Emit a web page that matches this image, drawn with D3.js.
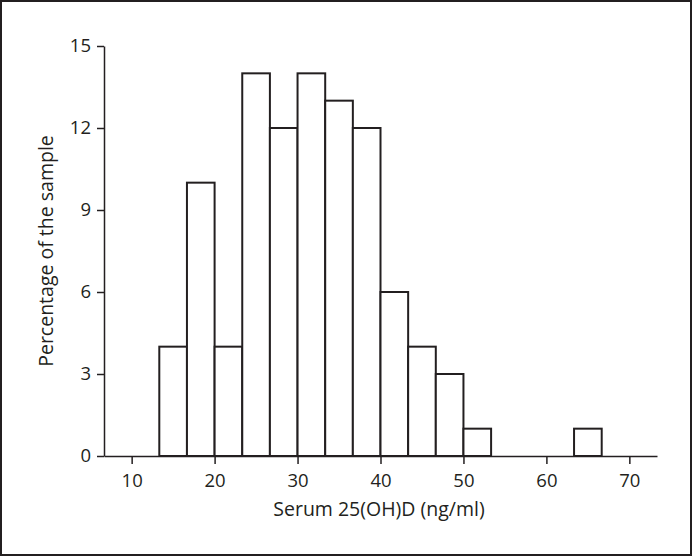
<!DOCTYPE html>
<html>
<head>
<meta charset="utf-8">
<script src="https://cdn.jsdelivr.net/npm/d3@7"></script>
<style>
  body { margin: 0; background: #fff; }
  svg { display: block; }
  text { font-family: "Open Sans", "Noto Sans", sans-serif; fill: #231f20; }
</style>
</head>
<body>
<svg width="692" height="556"></svg>
<script>
// bin edges are thirds of ten: 13.33, 16.67, 20, ...
var binStarts = [40/3, 50/3, 60/3, 70/3, 80/3, 90/3, 100/3, 110/3, 120/3, 130/3, 140/3, 150/3, 190/3];
var binWidth = 10/3;
var percents = [4, 10, 4, 14, 12, 14, 13, 12, 6, 4, 3, 1, 1];
var xTicks = [10, 20, 30, 40, 50, 60, 70];
var yTicks = [0, 3, 6, 9, 12, 15];

function main() {
	var svg = d3.select('svg'),
	width = +svg.attr('width'),
	height = +svg.attr('height');

	var ink = '#231f20';

	// outer frame
	svg.append('rect')
		.attr('x', 1).attr('y', 1)
		.attr('width', width - 2).attr('height', height - 2)
		.attr('fill', 'none')
		.attr('stroke', ink)
		.attr('stroke-width', 2);

	var x = d3.scaleLinear().domain([20/3, 220/3]).range([104, 657]);
	var y = d3.scaleLinear().domain([0, 15]).range([456, 46]);

	var data = binStarts.map(function(s, i) { return {x0: s, x1: s + binWidth, v: percents[i]}; });

	svg.append('g')
		.selectAll('rect')
		.data(data)
		.enter().append('rect')
		.attr('x', function(d) { return x(d.x0); })
		.attr('y', function(d) { return y(d.v); })
		.attr('width', function(d) { return x(d.x1) - x(d.x0); })
		.attr('height', function(d) { return y(0) - y(d.v); })
		.attr('fill', '#fff')
		.attr('stroke', ink)
		.attr('stroke-width', 2);

	var xAxis = svg.append('g')
		.attr('transform', 'translate(0,' + y(0) + ')')
		.call(d3.axisBottom(x).tickValues(xTicks).tickSize(8).tickSizeOuter(0).tickPadding(10));
	var yAxis = svg.append('g')
		.attr('transform', 'translate(' + x.range()[0] + ',0)')
		.call(d3.axisLeft(y).tickValues(yTicks).tickSize(7).tickSizeOuter(0).tickPadding(6));

	[xAxis, yAxis].forEach(function(a) {
		a.select('.domain').attr('stroke', ink).attr('stroke-width', 1.5);
		a.selectAll('.tick line').attr('stroke', ink).attr('stroke-width', 1.5);
		a.selectAll('.tick text').attr('font-size', 18.5).attr('font-family', null).style('fill', ink);
	});

	svg.append('text')
		.attr('x', 379).attr('y', 516)
		.attr('text-anchor', 'middle')
		.attr('font-size', 19.5)
		.text('Serum 25(OH)D (ng/ml)');

	svg.append('text')
		.attr('transform', 'translate(53,251) rotate(-90)')
		.attr('text-anchor', 'middle')
		.attr('font-size', 19.5)
		.text('Percentage of the sample');
}
main();
</script>
</body>
</html>
